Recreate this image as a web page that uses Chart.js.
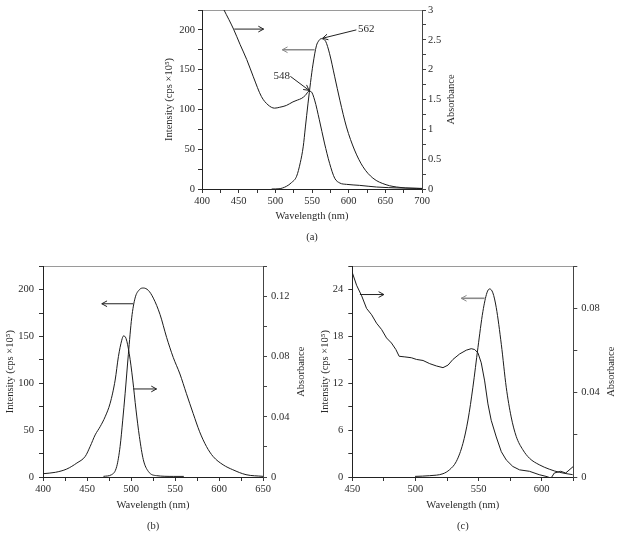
<!DOCTYPE html>
<html>
<head>
<meta charset="utf-8">
<script src="https://cdn.jsdelivr.net/npm/chart.js@4"></script>
<style>
  html, body { margin: 0; padding: 0; background: #fff; width: 618px; height: 536px; overflow: hidden; }
  .box { position: absolute; }
</style>
</head>
<body>
<div class="box" style="left:150px;top:0px"><canvas id="chartA" width="320" height="250"></canvas></div>
<div class="box" style="left:0px;top:255px"><canvas id="chartB" width="310" height="281"></canvas></div>
<div class="box" style="left:310px;top:255px"><canvas id="chartC" width="308" height="281"></canvas></div>
<script>
// (a) absorbance (right axis) and emission (left axis)
let aAbsWl = [430, 443, 452, 461, 470, 481, 490, 499, 506, 515, 524, 530, 536, 541, 546, 549, 553.6, 560, 567, 574, 581, 588, 597, 615, 638, 670, 700];
let aAbsVal = [3.0, 2.68, 2.42, 2.17, 1.88, 1.55, 1.41, 1.355, 1.37, 1.40, 1.46, 1.49, 1.52, 1.57, 1.64, 1.63, 1.49, 1.16, 0.77, 0.43, 0.18, 0.10, 0.078, 0.061, 0.033, 0.017, 0.01];
let aEmWl = [495, 505, 515, 522, 529, 534, 538, 541, 544.5, 548, 551.4, 556, 559, 562.7, 566, 568.6, 574, 581, 588, 597, 608, 619.5, 633, 651, 670, 700];
let aEmVal = [0, 0.3, 3.3, 8, 16, 33, 53, 78, 107, 134, 157, 180, 186, 189, 188, 185.7, 170, 141, 111.6, 78, 49, 28, 13.7, 5.4, 2, 0.5];

// (b)
let bAbsWl = [400, 414, 427, 438.5, 448, 453.6, 459.3, 465, 470.6, 476.3, 482, 485.7, 489.5, 491.4, 494.4, 498, 502, 505.7, 509.5, 514, 519.7, 529, 548, 560];
let bAbsVal = [0.0022, 0.0031, 0.0053, 0.0093, 0.0137, 0.0203, 0.028, 0.0335, 0.040, 0.049, 0.0644, 0.080, 0.0909, 0.0937, 0.092, 0.082, 0.0644, 0.0446, 0.027, 0.0115, 0.0037, 0.0009, 0.0004, 0.0004];
let bEmWl = [468.7, 478, 483.8, 487.6, 490.6, 493.3, 497, 500.8, 504.6, 509.5, 514, 519.7, 525.4, 533, 540.5, 548, 555.6, 563, 570.7, 578, 585.8, 593.3, 604.7, 615.6, 630.7, 650];
let bEmVal = [0.7, 2.5, 11.3, 32.5, 60.7, 88.9, 131, 170, 191, 200, 201.8, 199.3, 191, 173.5, 149, 127.7, 110, 89, 67.7, 48.3, 32.5, 21.9, 13, 7.8, 2.5, 0.7];

// (c)
let cAbsWl = [450, 453.4, 457.4, 461.3, 465.3, 469.2, 473.2, 477.1, 481, 484.5, 487.1, 491.6, 496.8, 500.8, 506, 511.3, 516.6, 521.8, 525.8, 529.7, 535, 540.3, 544.2, 546.9, 549.5, 552.1, 554.8, 557.4, 560, 564, 568, 571.9, 577.1, 582.4, 590.3, 598, 603.4, 607.4, 610, 615, 619, 625];
let cAbsVal = [0.097, 0.091, 0.086, 0.080, 0.077, 0.073, 0.070, 0.066, 0.0636, 0.0605, 0.0573, 0.057, 0.0566, 0.0558, 0.0553, 0.0538, 0.0527, 0.0519, 0.0531, 0.0558, 0.0584, 0.0602, 0.0609, 0.0605, 0.0589, 0.0542, 0.0456, 0.0347, 0.0269, 0.019, 0.012, 0.0081, 0.005, 0.0034, 0.0027, 0.0011, 0.0003, -0.0005, 0.0019, 0.0027, 0.0019, 0.005];
let cEmWl = [499.7, 511.3, 521.8, 527, 532.4, 537.6, 541.6, 545.5, 549.5, 553.4, 556.6, 558.7, 561.3, 564, 568, 571.9, 575.8, 579.8, 585, 590.3, 598, 606, 614, 624.5];
let cEmVal = [0.08, 0.17, 0.42, 0.93, 2.0, 4.3, 7.3, 11.5, 16.6, 21.2, 23.6, 24.1, 23.6, 21.7, 17, 11.5, 7.7, 5.2, 3.5, 2.4, 1.57, 1.0, 0.6, 0.3];

// arrows: [x1, y1, x2, y2] in data units, head at the second point
let aArrowAbs = [444, 2.68, 484, 2.68];
let aArrowEm = [553.6, 175, 509.5, 175];
let aArrow562 = [610.5, 200, 564.5, 189.5];
let aArrow548 = [520.5, 141.6, 546, 124];
let aNotes = [[624, 201, '562'], [508.6, 141.6, '548']];
let bArrowEm = [502.6, 185, 466.8, 185];
let bArrowAbs = [502.7, 0.0585, 529, 0.0585];
let cArrowAbs = [456, 0.0866, 475, 0.0866];
let cArrowEm = [554.8, 22.9, 536.3, 22.9];

const FONT = 'Liberation Serif';
const TXT = '#2a2a2a';

function pts(xs, ys) {
    return xs.map((x, i) => ({ x: x, y: ys[i] }));
}

function labelEvery(step) {
    return function(v) {
        let k = v / step;
        if (Math.abs(k - Math.round(k)) < 1e-6) return String(parseFloat(v.toFixed(4)));
        return '';
    };
}

// desenha setas, anotações e o título do eixo direito
const extras = {
    id: 'extras',
    afterDatasetsDraw(chart, args, opts) {
        let ctx = chart.ctx;
        let xs = chart.scales.x;
        ctx.save();
        (opts.arrows || []).forEach(a => {
            let ys = chart.scales[a.axis];
            let x1 = xs.getPixelForValue(a.p[0]), y1 = ys.getPixelForValue(a.p[1]);
            let x2 = xs.getPixelForValue(a.p[2]), y2 = ys.getPixelForValue(a.p[3]);
            ctx.strokeStyle = a.color;
            ctx.lineWidth = a.width;
            ctx.beginPath();
            ctx.moveTo(x1, y1);
            ctx.lineTo(x2, y2);
            ctx.stroke();
            let ang = Math.atan2(y2 - y1, x2 - x1), h = 6;
            ctx.lineWidth = 1;
            ctx.beginPath();
            ctx.moveTo(x2 - h * Math.cos(ang - 0.5), y2 - h * Math.sin(ang - 0.5));
            ctx.lineTo(x2, y2);
            ctx.lineTo(x2 - h * Math.cos(ang + 0.5), y2 - h * Math.sin(ang + 0.5));
            ctx.stroke();
        });
        ctx.fillStyle = TXT;
        ctx.font = '11px "' + FONT + '"';
        ctx.textAlign = 'center';
        ctx.textBaseline = 'middle';
        (opts.notes || []).forEach(n => {
            ctx.fillText(n[2], xs.getPixelForValue(n[0]), chart.scales.y.getPixelForValue(n[1]));
        });
        let ca = chart.chartArea;
        ctx.translate(ca.right + opts.rightDx, (ca.top + ca.bottom) / 2);
        ctx.rotate(-Math.PI / 2);
        ctx.font = '10.5px "' + FONT + '"';
        ctx.fillText('Absorbance', 0, 0);
        ctx.restore();
    }
};

function makeChart(id, c) {
    let font = { family: FONT, size: 10.5 };
    return new Chart(document.getElementById(id), {
        type: 'line',
        data: {
            datasets: [
                { data: pts(c.absWl, c.absVal), yAxisID: 'yR', borderColor: '#1c1c1c', borderWidth: 1, pointRadius: 0,
                  cubicInterpolationMode: c.jagged ? 'default' : 'monotone', tension: c.jagged ? 0 : 0.4 },
                { data: pts(c.emWl, c.emVal), yAxisID: 'y', borderColor: '#1c1c1c', borderWidth: 1, pointRadius: 0,
                  cubicInterpolationMode: 'monotone' }
            ]
        },
        options: {
            responsive: false,
            animation: false,
            events: [],
            layout: { padding: 0 },
            plugins: {
                legend: { display: false },
                tooltip: { enabled: false },
                extras: { arrows: c.arrows, notes: c.notes || [], rightDx: c.rightDx }
            },
            scales: {
                x: {
                    type: 'linear', position: 'bottom', min: c.xMin, max: c.xMax,
                    ticks: { stepSize: 25, autoSkip: false, maxRotation: 0, padding: 2, color: TXT, font: font, callback: labelEvery(50) },
                    grid: { drawOnChartArea: false, tickLength: 4, color: '#333' },
                    border: { color: '#222' },
                    title: { display: true, text: ['Wavelength (nm)', c.tag], color: TXT,
                             font: { family: FONT, size: 10.5, lineHeight: c.xLine / 10.5 }, padding: { top: 0, bottom: c.xPad } },
                    afterFit: s => { s.height = c.xH; }
                },
                x2: {
                    type: 'linear', axis: 'x', position: 'top', min: c.xMin, max: c.xMax,
                    ticks: { display: false },
                    grid: { drawOnChartArea: false, drawTicks: false },
                    border: { color: '#9a9a9a' },
                    afterFit: s => { s.height = 10; }
                },
                y: {
                    position: 'left', min: 0, max: c.yMax,
                    ticks: { stepSize: c.yStep, autoSkip: false, padding: c.yTickPad, color: TXT, font: font, callback: labelEvery(c.yStep * 2) },
                    grid: { drawOnChartArea: false, tickLength: 4, color: '#333' },
                    border: { color: '#222' },
                    title: { display: true, text: 'Intensity (cps \u00d710\u2075)', color: TXT, font: font, padding: { top: c.yTitlePad, bottom: 0 } },
                    afterFit: s => { s.width = c.leftW; }
                },
                yR: {
                    position: 'right', min: 0, max: c.rMax,
                    ticks: { stepSize: c.rStep, autoSkip: false, padding: c.rTickPad, color: TXT, font: font, callback: labelEvery(c.rStep * 2) },
                    grid: { drawOnChartArea: false, tickLength: 4, color: '#444' },
                    border: { color: '#444' },
                    afterFit: s => { s.width = c.rightW; }
                }
            }
        },
        plugins: [extras]
    });
}

makeChart('chartA', {
    absWl: aAbsWl, absVal: aAbsVal, emWl: aEmWl, emVal: aEmVal,
    xMin: 400, xMax: 700, yMax: 225, yStep: 25, rMax: 3, rStep: 0.25,
    leftW: 52, rightW: 48, xH: 61, xLine: 21, xPad: 2.2, tag: '(a)',
    yTitlePad: 12.7, yTickPad: 3, rTickPad: 2, rightDx: 29.7,
    arrows: [
        { p: aArrowAbs, axis: 'yR', color: '#222', width: 1 },
        { p: aArrowEm, axis: 'y', color: '#8a8a8a', width: 1.6 },
        { p: aArrow562, axis: 'y', color: '#222', width: 1 },
        { p: aArrow548, axis: 'y', color: '#222', width: 1 }
    ],
    notes: aNotes
});

makeChart('chartB', {
    absWl: bAbsWl, absVal: bAbsVal, emWl: bEmWl, emVal: bEmVal,
    xMin: 400, xMax: 650, yMax: 225, yStep: 25, rMax: 0.14, rStep: 0.02,
    leftW: 43, rightW: 47, xH: 59, xLine: 21.7, xPad: -1.5, tag: '(b)',
    yTitlePad: 3.7, yTickPad: 5, rTickPad: 4, rightDx: 38.7,
    arrows: [
        { p: bArrowEm, axis: 'y', color: '#222', width: 1 },
        { p: bArrowAbs, axis: 'yR', color: '#222', width: 1 }
    ]
});

makeChart('chartC', {
    absWl: cAbsWl, absVal: cAbsVal, emWl: cEmWl, emVal: cEmVal, jagged: true,
    xMin: 450, xMax: 625, yMax: 27, yStep: 3, rMax: 0.1, rStep: 0.02,
    leftW: 42.3, rightW: 44.7, xH: 59, xLine: 21.7, xPad: -1.5, tag: '(c)',
    yTitlePad: 8.7, yTickPad: 5, rTickPad: 4, rightDx: 38.4,
    arrows: [
        { p: cArrowAbs, axis: 'yR', color: '#222', width: 1 },
        { p: cArrowEm, axis: 'y', color: '#8a8a8a', width: 1.6 }
    ]
});
</script>
</body>
</html>
